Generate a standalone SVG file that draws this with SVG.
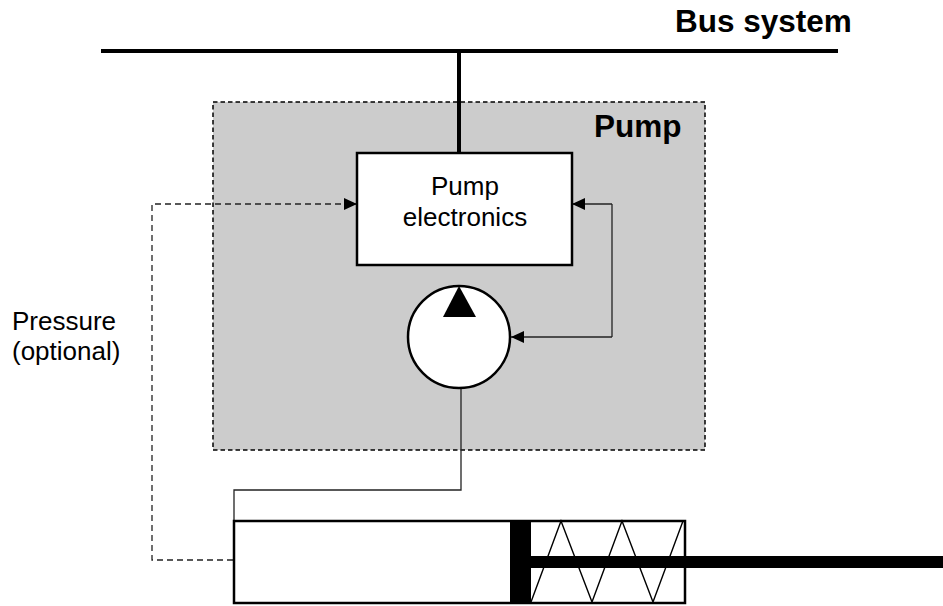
<svg xmlns="http://www.w3.org/2000/svg" width="943" height="606" viewBox="0 0 943 606">
<style>
text{font-family:"Liberation Sans",Arial,sans-serif;fill:#000}
.l{font-size:26px}
.b{font-size:31.5px;font-weight:bold}
.c{fill:none;stroke:#222;stroke-width:1.3}
.d{fill:none;stroke:#222;stroke-width:1.3;stroke-dasharray:6 4}
.s{fill:none;stroke:#000;stroke-width:1.4}
</style>
<defs>
<marker id="a" markerUnits="userSpaceOnUse" markerWidth="14" markerHeight="14" refX="13" refY="7" orient="auto"><path d="M0 1L13 7L0 13Z" fill="#000"/></marker>
</defs>
<rect width="943" height="606" fill="#fff"/>
<g id="pump">
<rect x="213" y="102" width="492" height="348" fill="#ccc" stroke="#000" stroke-width="1.5" stroke-dasharray="4.5 3"/>
<text class="b" x="594" y="137">Pump</text>
</g>
<g id="bus">
<path d="M101 51H838" stroke="#000" stroke-width="4" fill="none"/>
<text class="b" x="675" y="32">Bus system</text>
</g>
<g id="connectors">
<path d="M459 51V153" stroke="#000" stroke-width="4" fill="none"/>
<path class="c" d="M612 204V337"/>
<path class="c" d="M612 204H572" marker-end="url(#a)"/>
<path class="c" d="M612 337H511" marker-end="url(#a)"/>
<path class="d" d="M233 560H152V204H357" marker-end="url(#a)"/>
<path class="c" d="M461 389V490H234V520"/>
</g>
<g id="electronics">
<rect x="357" y="153" width="215" height="112" fill="#fff" stroke="#000" stroke-width="2.5"/>
<text class="l" text-anchor="middle" x="465" y="195">Pump</text>
<text class="l" text-anchor="middle" x="465" y="226">electronics</text>
</g>
<g id="motor">
<circle cx="459" cy="337" r="51" fill="#fff" stroke="#000" stroke-width="2.5"/>
<path d="M459 286L443 317H476Z" fill="#000"/>
</g>
<g id="cylinder">
<rect x="234" y="521" width="451" height="82" fill="#fff" stroke="#000" stroke-width="2.5"/>
<path class="s" d="M531 602L561 521L592 602L622 521L653 602L683 521"/>
<rect x="510" y="521" width="21" height="82" fill="#000"/>
<rect x="531" y="556" width="412" height="12" fill="#000"/>
</g>
<g id="pressure-label">
<text class="l" x="12" y="330">Pressure</text>
<text class="l" x="12" y="360">(optional)</text>
</g>
</svg>
